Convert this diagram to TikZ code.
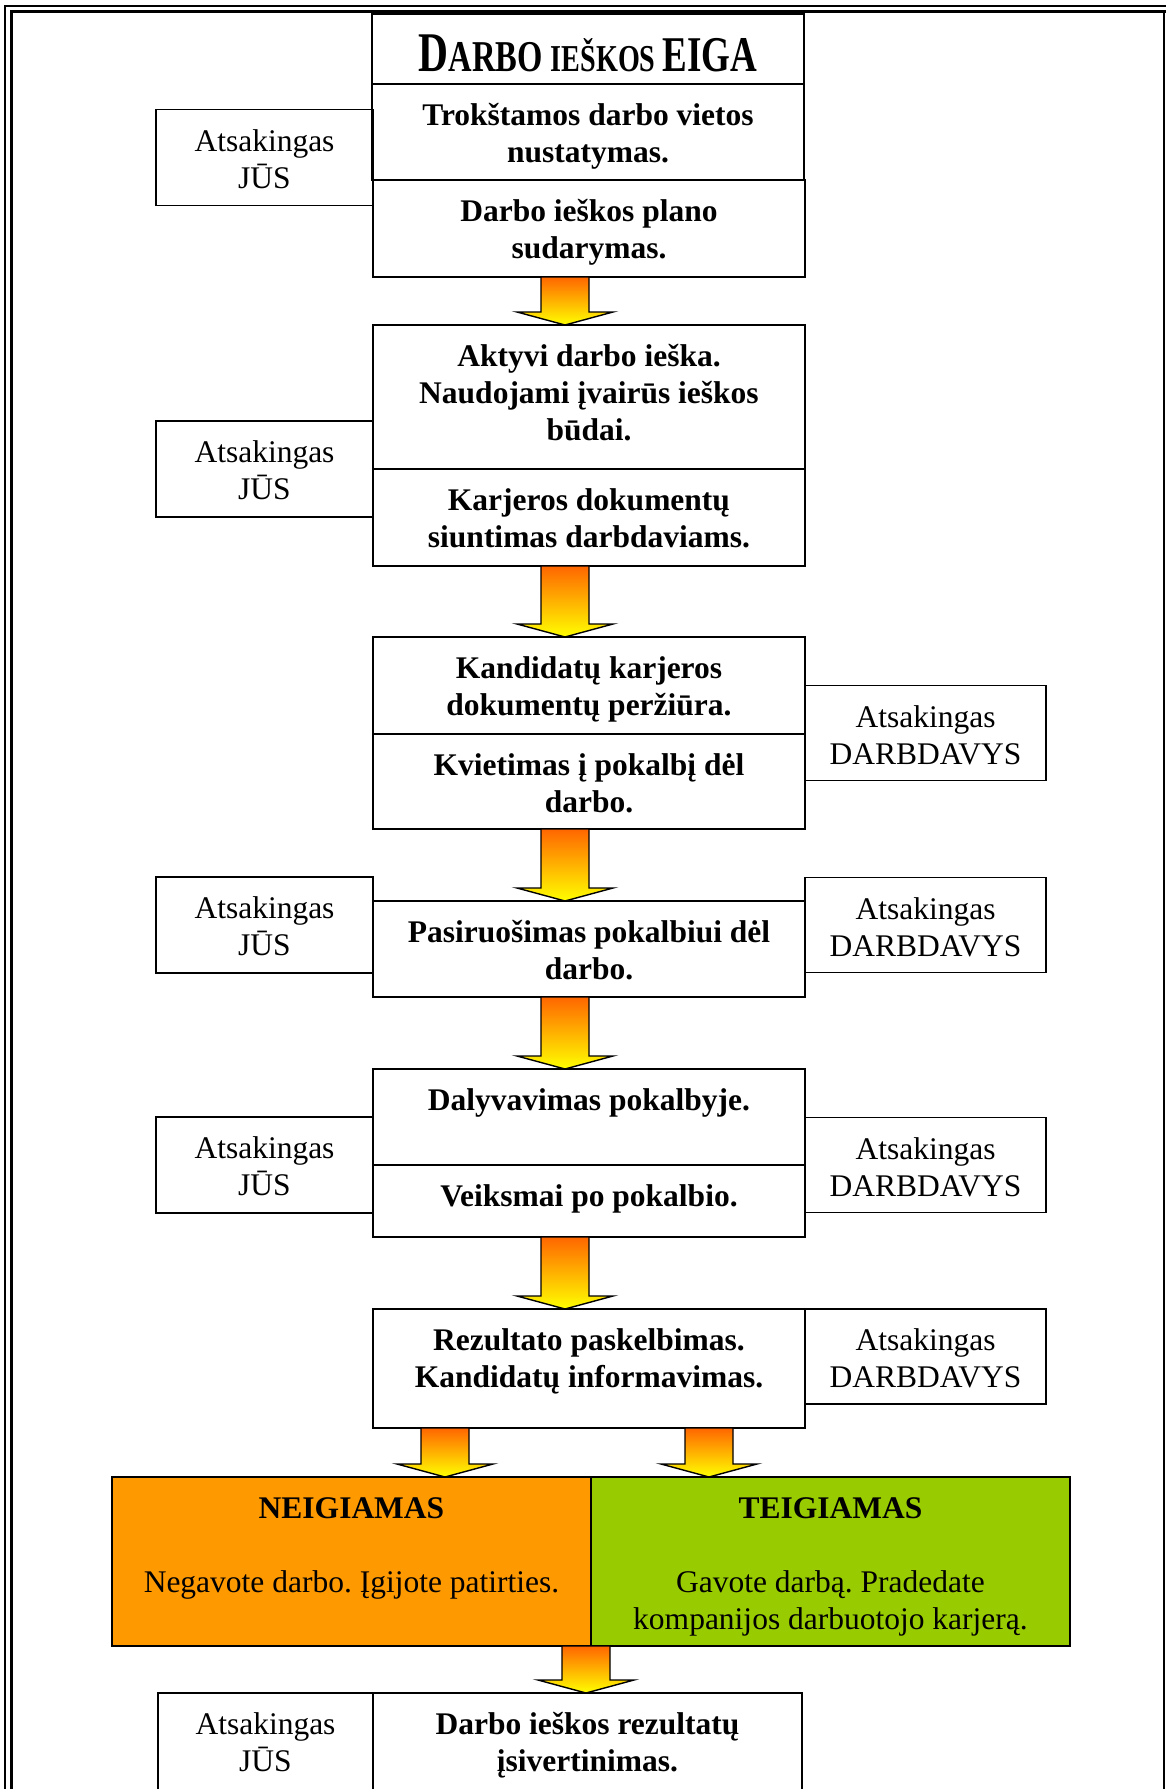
\documentclass[tikz,border=0pt]{standalone}
\usepackage{fontspec}
\setmainfont{Liberation Serif}
\usepackage{graphicx}
\usetikzlibrary{calc}
\frenchspacing

\definecolor{arrowtop}{RGB}{255,102,0}
\definecolor{negfill}{RGB}{255,153,0}
\definecolor{posfill}{RGB}{153,204,0}

\newcommand{\txt}{\fontsize{31.5}{37}\selectfont}
\newcommand{\titlefont}[1]{\fontsize{#1}{#1}\selectfont}

% block arrow: x position, upper node, lower node
\newcommand{\flowarrow}[3]{%
  \draw[fatarrow] let \p1=(#2.south), \p2=(#3.north) in
    ({#1pt-24pt},\y1) -- ({#1pt+24pt},\y1) -- ({#1pt+24pt},\y2+13pt)
    -- ({#1pt+48pt},\y2+13pt) -- (#1pt,\y2) -- ({#1pt-48pt},\y2+13pt)
    -- ({#1pt-24pt},\y2+13pt) -- cycle;}

\begin{document}
\begin{tikzpicture}[x=1pt, y=-1pt,
  cellwidth/.store in = \cellw,
  cellheight/.store in = \cellh,
  boxh/.style = {minimum height=#1, cellheight=#1pt},
  boxline/.style = {draw, line width=1.6pt, outer sep=0pt, inner sep=0pt},
  topcell/.style = {boxline,
    execute at begin node={\begin{minipage}[c][\cellh][t]{\cellw}\centering\vspace*{16pt}\strut},
    execute at end node={\end{minipage}}},
  mainbox/.style = {topcell, minimum width=432, boxh=96, cellwidth=420pt, font=\txt\bfseries},
  sidebox/.style = {topcell, minimum width=217, boxh=96, cellwidth=210pt, font=\txt},
  empbox/.style = {topcell, minimum width=241, boxh=95, cellwidth=235pt, font=\txt},
  resultbox/.style = {topcell, minimum width=479, boxh=169, cellwidth=470pt, font=\txt},
  titlebox/.style = {boxline, minimum width=432, minimum height=70},
  fatarrow/.style = {draw=black, line width=1.4pt, line join=miter,
    top color=arrowtop, bottom color=yellow}]
  \useasboundingbox (0,0) rectangle (1166,1789);

  % page border
  \draw[line width=1.8pt] (4,6) -- (1166,6);
  \draw[line width=2.2pt] (10,11.5) -- (1166,11.5);
  \draw[line width=1.4pt] (5,5) -- (5,1789);
  \draw[line width=3pt] (11,10.5) -- (11,1789);
  \draw[line width=1.6pt] (1164,11) -- (1164,1789);

  \node[titlebox] (title) at (588,49)
    {\raisebox{-22pt}[0pt][0pt]{\scalebox{0.74}[1]{\bfseries\titlefont{56}D\titlefont{44}ARBO
      \titlefont{38}IEŠKOS \titlefont{50}EIGA}}};
  \node[mainbox] (want) at (588,132) {Trokštamos darbo vietos\\nustatymas.};
  \node[mainbox, boxh=97] (plan) at (589,228.5) {Darbo ieškos plano\\sudarymas.};
  \node[sidebox] (jus1) at (264.5,157.5) {Atsakingas\\JŪS};

  \node[mainbox, boxh=144] (search) at (589,397)
    {Aktyvi darbo ieška.\\Naudojami įvairūs ieškos\\būdai.};
  \node[mainbox, boxh=97] (docs) at (589,517.5) {Karjeros dokumentų\\siuntimas darbdaviams.};
  \node[sidebox] (jus2) at (264.5,469) {Atsakingas\\JŪS};

  \node[mainbox, boxh=97] (review) at (589,685.5) {Kandidatų karjeros\\dokumentų peržiūra.};
  \node[mainbox, boxh=95] (invite) at (589,781.5) {Kvietimas į pokalbį dėl\\darbo.};
  \node[empbox] (emp1) at (925.5,733) {Atsakingas\\DARBDAVYS};

  \node[mainbox] (prep) at (589,949) {Pasiruošimas pokalbiui dėl\\darbo.};
  \node[sidebox] (jus3) at (264.5,925) {Atsakingas\\JŪS};
  \node[empbox] (emp2) at (925.5,925) {Atsakingas\\DARBDAVYS};

  \node[mainbox] (attend) at (589,1117) {Dalyvavimas pokalbyje.};
  \node[mainbox, boxh=72] (after) at (589,1201) {Veiksmai po pokalbio.};
  \node[sidebox] (jus4) at (264.5,1165) {Atsakingas\\JŪS};
  \node[empbox] (emp3) at (925.5,1165) {Atsakingas\\DARBDAVYS};

  \node[mainbox, boxh=119] (result) at (589,1368.5)
    {Rezultato paskelbimas.\\Kandidatų informavimas.};
  \node[empbox] (emp4) at (925.5,1356.5) {Atsakingas\\DARBDAVYS};

  \node[resultbox, fill=negfill] (neg) at (351.5,1561.5)
    {\textbf{NEIGIAMAS}\\\mbox{}\\Negavote darbo. Įgijote patirties.};
  \node[resultbox, fill=posfill] (pos) at (830.5,1561.5)
    {\textbf{TEIGIAMAS}\\\mbox{}\\Gavote darbą. Pradedate\\kompanijos darbuotojo karjerą.};

  \node[mainbox, minimum width=429, boxh=100] (final) at (587.5,1743)
    {Darbo ieškos rezultatų\\įsivertinimas.};
  \node[sidebox, minimum width=215, boxh=100] (jus5) at (265.5,1743) {Atsakingas\\JŪS};

  \flowarrow{565}{plan}{search}
  \flowarrow{565}{docs}{review}
  \flowarrow{565}{invite}{prep}
  \flowarrow{565}{prep}{attend}
  \flowarrow{565}{after}{result}
  \flowarrow{445}{result}{neg}
  \flowarrow{709}{result}{pos}
  \flowarrow{586}{neg}{final}
\end{tikzpicture}
\end{document}
